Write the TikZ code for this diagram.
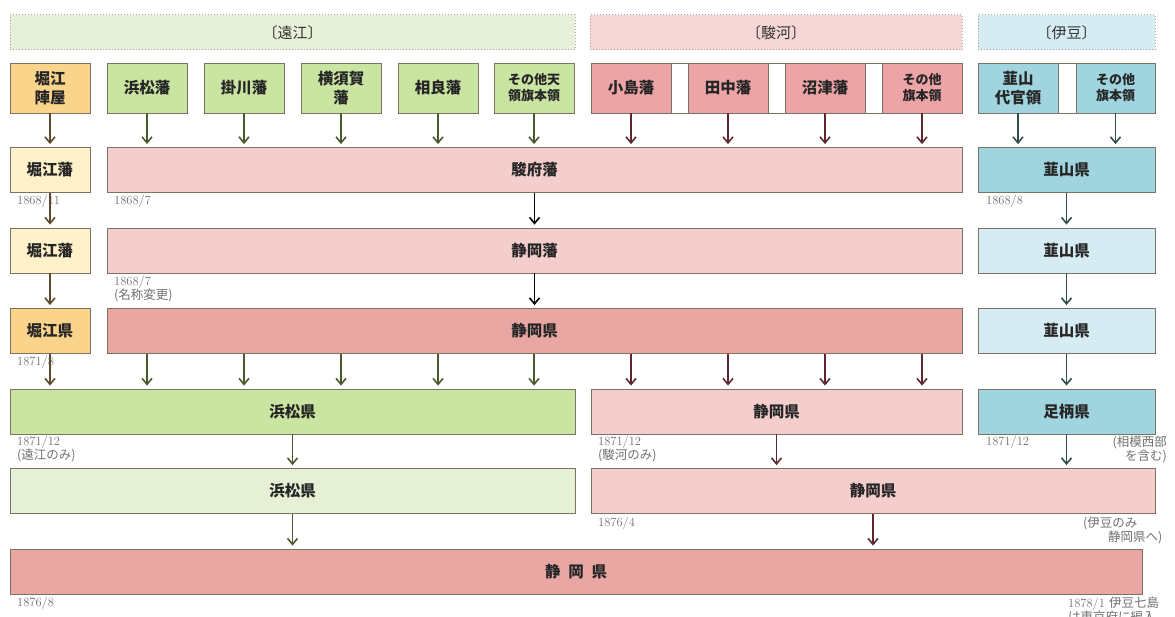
\documentclass[tikz,border=0pt]{standalone}
\usepackage{fontspec}
\newfontfamily\jp{Noto Sans CJK JP}
\usetikzlibrary{arrows.meta,positioning}
\definecolor{hdrG}{HTML}{E6F0D8}
\definecolor{hdrP}{HTML}{F6D6D6}
\definecolor{hdrB}{HTML}{D6ECF3}
\definecolor{hdrline}{HTML}{A8A8A0}
\definecolor{boxline}{HTML}{7A7264}
\definecolor{orng}{HTML}{FBD48C}
\definecolor{ylw}{HTML}{FFF1C9}
\definecolor{grn}{HTML}{CAE4A2}
\definecolor{lgrn}{HTML}{E6F0D4}
\definecolor{pnk}{HTML}{EDA4A6}
\definecolor{lpnk}{HTML}{F4CECC}
\definecolor{mpnk}{HTML}{E9A7A4}
\definecolor{blu}{HTML}{A0D4DF}
\definecolor{lblu}{HTML}{D5ECF3}
\definecolor{brn}{HTML}{5B4A2E}
\definecolor{olv}{HTML}{4B5A2B}
\definecolor{mrn}{HTML}{5C2933}
\definecolor{slt}{HTML}{334C4C}
\definecolor{notegray}{HTML}{707070}

\tikzset{
	box/.style={draw=boxline, line width=0.8pt, inner sep=0pt, align=center,
		text=black!85, font=\jp\bfseries\fontsize{15.5}{18.5}\selectfont,
		minimum width=80pt, minimum height=45pt},
	small/.style={font=\jp\bfseries\fontsize{13}{16}\selectfont},
	region/.style={draw=hdrline, dotted, line width=1pt, inner sep=0pt,
		text=black!80, font=\jp\fontsize{15}{18}\selectfont, minimum height=35pt},
	note/.style={inner sep=0pt, text=notegray, align=left,
		font=\fontsize{12.5}{14}\selectfont},
	flow/.style={-{Straight Barb[length=6pt,width=10pt]}, line width=1.6pt, shorten >=3pt},
}

\begin{document}
\begin{tikzpicture}[x=1pt,y=-1pt]
	\useasboundingbox (0,0) rectangle (1175,617);
	% provinces
	\node[region, fill=hdrG, minimum width=565pt] (totomi) at (292.5,32.5) {〔遠江〕};
	\node[region, fill=hdrP, minimum width=372pt] (suruga) at (776,32.5) {〔駿河〕};
	\node[region, fill=hdrB, minimum width=177pt] (izu) at (1066.5,32.5) {〔伊豆〕};
	% domains
	\draw[boxline, line width=0.8pt, fill=white] (591,63) rectangle (962,113);
	\draw[boxline, line width=0.8pt, fill=white] (978,63) rectangle (1155,113);
	\node[box, fill=orng, minimum height=50pt] (t1) at (50,88) {堀江\\陣屋};
	\node[box, fill=grn, minimum height=50pt] (t2) at (147,88) {浜松藩};
	\node[box, fill=grn, minimum height=50pt] (t3) at (244,88) {掛川藩};
	\node[box, fill=grn, minimum height=50pt] (t4) at (341,88) {横須賀\\藩};
	\node[box, fill=grn, minimum height=50pt] (t5) at (438,88) {相良藩};
	\node[box, small, fill=grn, minimum height=50pt] (t6) at (534,88) {その他天\\領旗本領};
	\node[box, fill=pnk, minimum height=50pt] (t7) at (631,88) {小島藩};
	\node[box, fill=pnk, minimum height=50pt] (t8) at (728,88) {田中藩};
	\node[box, fill=pnk, minimum height=50pt] (t9) at (825,88) {沼津藩};
	\node[box, small, fill=pnk, minimum height=50pt] (t10) at (922,88) {その他\\旗本領};
	\node[box, fill=blu, minimum height=50pt] (t11) at (1018,88) {韮山\\代官領};
	\node[box, small, fill=blu, minimum height=50pt, minimum width=79pt] (t12) at (1115.5,88) {その他\\旗本領};
	% 1868
	\node[box, fill=ylw] (a1) at (50,170) {堀江藩};
	\node[box, fill=lpnk, minimum width=855pt] (a2) at (534.5,170) {駿府藩};
	\node[box, fill=blu, minimum width=177pt] (a3) at (1066.5,170) {韮山県};
	\node[box, fill=ylw] (b1) at (50,250.5) {堀江藩};
	\node[box, fill=lpnk, minimum width=855pt] (b2) at (534.5,250.5) {静岡藩};
	\node[box, fill=lblu, minimum width=177pt] (b3) at (1066.5,250.5) {韮山県};
	% 1871
	\node[box, fill=orng] (c1) at (50,331) {堀江県};
	\node[box, fill=mpnk, minimum width=855pt] (c2) at (534.5,331) {静岡県};
	\node[box, fill=lblu, minimum width=177pt] (c3) at (1066.5,331) {韮山県};
	\node[box, fill=grn, minimum width=565pt] (d1) at (292.5,411.5) {浜松県};
	\node[box, fill=lpnk, minimum width=371pt] (d2) at (776.5,411.5) {静岡県};
	\node[box, fill=blu, minimum width=177pt] (d3) at (1066.5,411.5) {足柄県};
	% 1876
	\node[box, fill=lgrn, minimum width=565pt] (e1) at (292.5,491) {浜松県};
	\node[box, fill=lpnk, minimum width=564pt] (e2) at (873,491) {静岡県};
	\node[box, fill=mpnk, minimum width=1132pt] (f1) at (576,571.5) {静\hspace{0.5em}岡\hspace{0.5em}県};
	% dates
	\node[note, anchor=north west] (n1) at (17,195) {1868/11};
	\node[note, anchor=north west] (n2) at (114,195) {1868/7};
	\node[note, anchor=north west] (n3) at (986,195) {1868/8};
	\node[note, anchor=north west] (n4) at (114,276) {1868/7\\{\jp (名称変更)}};
	\node[note, anchor=north west] (n5) at (17,356) {1871/8};
	\node[note, anchor=north west] (n6) at (17,436) {1871/12\\{\jp (遠江のみ)}};
	\node[note, anchor=north west] (n7) at (598,436) {1871/12\\{\jp (駿河のみ)}};
	\node[note, anchor=north west] (n8) at (986,436) {1871/12};
	\node[note, anchor=north east, align=right] (n9) at (1167,436) {\jp (相模西部\\\jp を含む)};
	\node[note, anchor=north west] (n10) at (598,517) {1876/4};
	\node[note, anchor=north west] (n11) at (1083,517) {\jp (伊豆のみ\\\hspace*{25pt}\jp 静岡県へ)};
	\node[note, anchor=north west] (n12) at (17,597) {1876/8};
	\node[note, anchor=north west] (n13) at (1068,597) {1878/1 {\jp 伊豆七島}\\{\jp は東京府に編入}};
	% arrows
	\draw[flow, brn] (t1.south) -- (a1.north);
	\draw[flow, olv] (t2.south) -- (t2.south |- a2.north);
	\draw[flow, olv] (t3.south) -- (t3.south |- a2.north);
	\draw[flow, olv] (t4.south) -- (t4.south |- a2.north);
	\draw[flow, olv] (t5.south) -- (t5.south |- a2.north);
	\draw[flow, olv] (t6.south) -- (t6.south |- a2.north);
	\draw[flow, mrn] (t7.south) -- (t7.south |- a2.north);
	\draw[flow, mrn] (t8.south) -- (t8.south |- a2.north);
	\draw[flow, mrn] (t9.south) -- (t9.south |- a2.north);
	\draw[flow, mrn] (t10.south) -- (t10.south |- a2.north);
	\draw[flow, slt] (t11.south) -- (t11.south |- a3.north);
	\draw[flow, slt] (t12.south) -- (t12.south |- a3.north);
	\draw[flow, brn] (a1.south) -- (b1.north);
	\draw[flow, black] (a2.south) -- (b2.north);
	\draw[flow, slt] (a3.south) -- (b3.north);
	\draw[flow, brn] (b1.south) -- (c1.north);
	\draw[flow, black] (b2.south) -- (c2.north);
	\draw[flow, slt] (b3.south) -- (c3.north);
	\draw[flow, brn] (c1.south) -- (c1.south |- d1.north);
	\draw[flow, olv] (t2.south |- c2.south) -- (t2.south |- d1.north);
	\draw[flow, olv] (t3.south |- c2.south) -- (t3.south |- d1.north);
	\draw[flow, olv] (t4.south |- c2.south) -- (t4.south |- d1.north);
	\draw[flow, olv] (t5.south |- c2.south) -- (t5.south |- d1.north);
	\draw[flow, olv] (t6.south |- c2.south) -- (t6.south |- d1.north);
	\draw[flow, mrn] (t7.south |- c2.south) -- (t7.south |- d2.north);
	\draw[flow, mrn] (t8.south |- c2.south) -- (t8.south |- d2.north);
	\draw[flow, mrn] (t9.south |- c2.south) -- (t9.south |- d2.north);
	\draw[flow, mrn] (t10.south |- c2.south) -- (t10.south |- d2.north);
	\draw[flow, slt] (c3.south) -- (d3.north);
	\draw[flow, olv] (d1.south) -- (e1.north);
	\draw[flow, mrn] (d2.south) -- (d2.south |- e2.north);
	\draw[flow, slt] (d3.south) -- (d3.south |- e2.north);
	\draw[flow, olv] (e1.south) -- (e1.south |- f1.north);
	\draw[flow, mrn] (e2.south) -- (e2.south |- f1.north);
\end{tikzpicture}
\end{document}
